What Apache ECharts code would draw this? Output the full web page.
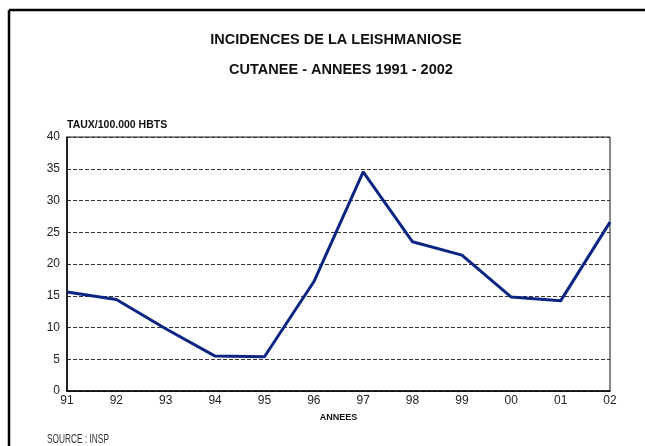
<!DOCTYPE html>
<html>
<head>
<meta charset="utf-8">
<script src="https://cdn.jsdelivr.net/npm/echarts@6/dist/echarts.min.js"></script>
<style>
  html, body { margin: 0; padding: 0; background: #fff; }
  #chart { width: 645px; height: 446px; }
</style>
</head>
<body>
<div id="chart"></div>
<script>
const years = ['91', '92', '93', '94', '95', '96', '97', '98', '99', '00', '01', '02'];
const taux = [15.6, 14.4, 9.8, 5.5, 5.4, 17.2, 34.5, 23.5, 21.4, 14.8, 14.2, 26.6];
const yTicks = { min: 0, max: 40, interval: 5 };

const chart = echarts.init(document.getElementById('chart'));

chart.setOption({
  backgroundColor: '#fff',
  animation: false,
  title: [
    {
      text: 'INCIDENCES DE LA LEISHMANIOSE',
      left: 331,
      top: 27,
      textAlign: 'center',
      textStyle: { fontFamily: 'Liberation Sans', fontSize: 14.5, fontWeight: 'bold', color: '#111' }
    },
    {
      text: 'CUTANEE - ANNEES 1991 - 2002',
      left: 336,
      top: 57,
      textAlign: 'center',
      textStyle: { fontFamily: 'Liberation Sans', fontSize: 14.5, fontWeight: 'bold', color: '#111' }
    }
  ],
  grid: { left: 67, right: 35, top: 137, bottom: 55, show: true, borderColor: '#222', borderWidth: 1 },
  xAxis: {
    type: 'category',
    data: years,
    boundaryGap: false,
    name: 'ANNEES',
    nameLocation: 'middle',
    nameGap: 22,
    nameTextStyle: { fontFamily: 'Liberation Sans', fontSize: 9, fontWeight: 'bold', color: '#111' },
    axisLine: { lineStyle: { color: '#000', width: 1.5 } },
    axisTick: { show: false },
    axisLabel: { interval: 0, color: '#222', fontFamily: 'Liberation Sans', fontSize: 12, margin: 4 }
  },
  yAxis: {
    type: 'value',
    min: yTicks.min,
    max: yTicks.max,
    interval: yTicks.interval,
    name: 'TAUX/100.000 HBTS',
    nameLocation: 'end',
    nameGap: 6,
    nameTextStyle: { align: 'left', fontFamily: 'Liberation Sans', fontSize: 10.5, fontWeight: 'bold', color: '#111' },
    axisLine: { show: true, lineStyle: { color: '#000', width: 1.5 } },
    axisTick: { show: false },
    axisLabel: { color: '#222', fontFamily: 'Liberation Sans', fontSize: 12, margin: 7 },
    splitLine: { lineStyle: { color: '#333', type: [4, 2], width: 1 } }
  },
  graphic: [
    { type: 'line', shape: { x1: 9, y1: 10, x2: 645, y2: 10 }, style: { stroke: '#000', lineWidth: 2.5 } },
    { type: 'line', shape: { x1: 9, y1: 10, x2: 9, y2: 446 }, style: { stroke: '#000', lineWidth: 2.5 } },
    { type: 'line', shape: { x1: 610, y1: 137, x2: 610, y2: 391 }, style: { stroke: '#888', lineWidth: 1.5 } },
    {
      type: 'text',
      x: 47,
      y: 439,
      scaleX: 0.64,
      style: {
        text: 'SOURCE : INSP',
        font: '13px "Liberation Sans", sans-serif',
        fill: '#333',
        verticalAlign: 'middle'
      }
    }
  ],
  series: [
    {
      name: 'Taux',
      type: 'line',
      data: taux,
      showSymbol: false,
      lineStyle: { color: '#0b2582', width: 3 },
      itemStyle: { color: '#0b2582' }
    }
  ]
});
</script>
</body>
</html>
